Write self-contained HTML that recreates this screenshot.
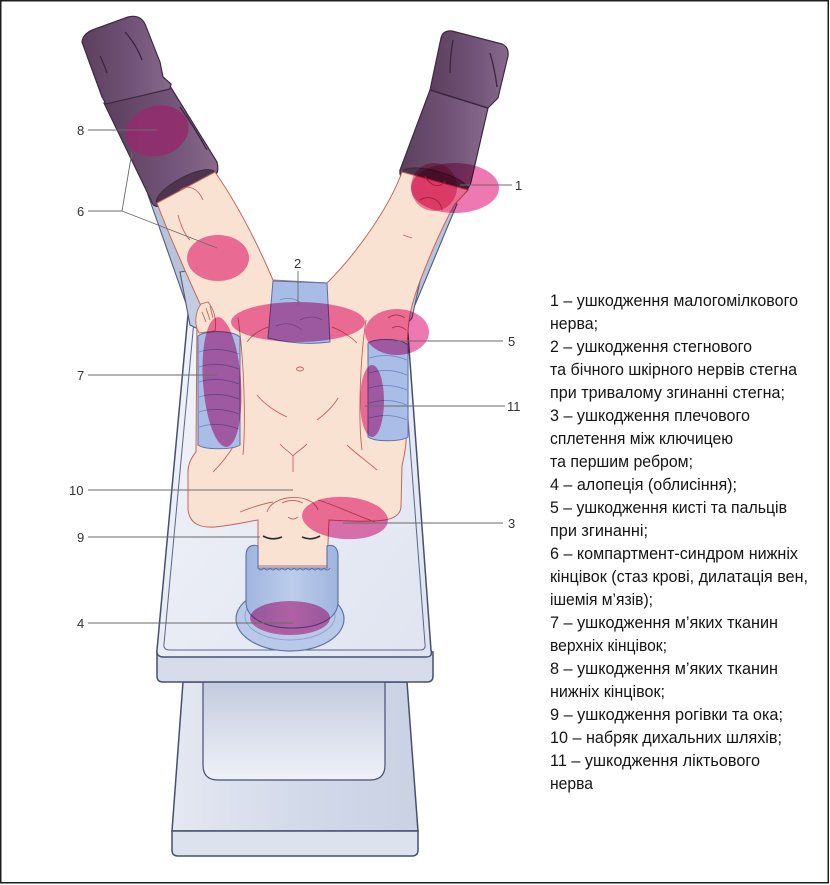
<!DOCTYPE html>
<html><head><meta charset="utf-8">
<style>
html,body{margin:0;padding:0;background:#fff;}
svg{display:block;}
.t{font-family:"Liberation Sans","DejaVu Sans",sans-serif;font-size:17px;fill:#151515;}
.n{font-family:"Liberation Sans","DejaVu Sans",sans-serif;font-size:13px;fill:#333;}
.ld{stroke:#6a6a6a;stroke-width:0.9;fill:none;}
.sk{stroke:#c0675c;stroke-width:0.9;fill:none;}
.pk{fill:#ee78b2;mix-blend-mode:multiply;}
</style></head><body>
<svg width="830" height="885" viewBox="0 0 830 885" xmlns="http://www.w3.org/2000/svg">
<defs>
<linearGradient id="boot" x1="0" y1="0" x2="1" y2="0">
<stop offset="0" stop-color="#5c3f5d"/><stop offset="0.6" stop-color="#73547a"/><stop offset="1" stop-color="#876a8c"/>
</linearGradient>
<linearGradient id="rec" x1="0" y1="0" x2="0" y2="1">
<stop offset="0" stop-color="#c3cbdd"/><stop offset="1" stop-color="#eef1f8"/>
</linearGradient>
<linearGradient id="ped" x1="0" y1="0" x2="1" y2="0">
<stop offset="0" stop-color="#e4e8f2"/><stop offset="0.5" stop-color="#d3daea"/><stop offset="1" stop-color="#c9d1e3"/>
</linearGradient>
<linearGradient id="top" x1="0" y1="0" x2="1" y2="1">
<stop offset="0" stop-color="#f2f4fa"/><stop offset="1" stop-color="#dfe4f0"/>
</linearGradient>
<linearGradient id="cap" x1="0" y1="0" x2="1" y2="0">
<stop offset="0" stop-color="#9fb5df"/><stop offset="0.5" stop-color="#bccdeb"/><stop offset="1" stop-color="#9fb4de"/>
</linearGradient>
</defs>

<rect x="0.75" y="0.75" width="827.5" height="882" fill="#fff" stroke="#1e1e1e" stroke-width="1.5"/>

<!-- table pedestal -->
<path d="M183,682 L407,682 L418,831 L172,831 Z" fill="url(#ped)" stroke="#46506e" stroke-width="1.5"/>
<path d="M203,682 L385,682 L385,765 Q385,780 370,780 L218,780 Q203,780 203,765 Z" fill="url(#rec)" stroke="#46506e" stroke-width="1.2"/>
<path d="M172,831 L418,831 L418,850 Q418,856 412,856 L178,856 Q172,856 172,850 Z" fill="#dce2ee" stroke="#46506e" stroke-width="1.5"/>
<!-- slab -->
<path d="M157,652 L433,652 L433,676 Q433,682 427,682 L163,682 Q157,682 157,676 Z" fill="#d6dcea" stroke="#46506e" stroke-width="1.5"/>
<!-- table top -->
<path d="M190,293 L405,293 L431,650 Q433,657 426,657 L164,657 Q156,657 157,650 Z" fill="url(#top)" stroke="#46506e" stroke-width="1.5"/>
<path d="M196,299 L399,299 L425,644 Q426,650 420,650 L170,650 Q163,650 164,644 Z" fill="none" stroke="#5a6688" stroke-width="1"/>

<!-- rails -->
<polygon points="148,195 161,199 202,298 198,318 189,312" fill="#b8c3da" stroke="#4e5c80" stroke-width="1.1"/>
<polygon points="180,272 193,270 207,305 200,330 190,325" fill="#c3cde1" stroke="#4e5c80" stroke-width="1.1"/>
<polygon points="447,200 457,204 415,305 404,318 405,300" fill="#b8c3da" stroke="#4e5c80" stroke-width="1.1"/>
<polygon points="410,268 422,272 412,318 402,330 400,305" fill="#c3cde1" stroke="#4e5c80" stroke-width="1.1"/>

<!-- head ring -->
<ellipse cx="290" cy="619" rx="54" ry="32" fill="#b9c9ea" stroke="#5f74a6" stroke-width="1.2"/>
<ellipse cx="290" cy="616" rx="45" ry="24" fill="none" stroke="#8ea2cf" stroke-width="1"/>

<!-- left boot -->
<path d="M104,103 L170,86 L217,162 Q220,174 212,178 L160,206 Q153,208 151,200 Z" fill="url(#boot)" stroke="#3e2a40" stroke-width="1.2"/>
<path d="M82,42 Q83,33 95,29 L128,17 Q140,14 145,24 L160,62 L163,77 L171,84 L170,89 L106,104 L102,97 Z" fill="url(#boot)" stroke="#3e2a40" stroke-width="1.2"/>
<path d="M125,32 Q136,44 142,60 M100,56 Q104,64 107,73 M180,107 Q195,128 207,150" stroke="#3a2540" stroke-width="1.3" fill="none"/>
<ellipse cx="186" cy="188" rx="33" ry="11" transform="rotate(-28 186 188)" fill="#4f3450" stroke="#3e2a40" stroke-width="1"/>

<!-- right boot -->
<path d="M430,90 L488,108 L471,182 Q468,192 460,191 L406,180 Q399,178 400,170 Z" fill="url(#boot)" stroke="#3e2a40" stroke-width="1.2"/>
<path d="M441,38 Q443,30 452,31 L502,44 Q509,47 508,56 L498,98 L488,108 L430,90 Z" fill="url(#boot)" stroke="#3e2a40" stroke-width="1.2"/>
<path d="M453,40 Q450,56 450,73 M490,53 Q495,70 497,87 M430,90 L488,108" stroke="#3a2540" stroke-width="1.3" fill="none"/>
<ellipse cx="435" cy="181" rx="34" ry="10" transform="rotate(15 435 181)" fill="#4f3450" stroke="#3e2a40" stroke-width="1"/>

<!-- body -->
<path d="M157,203 C166,228 189,280 201,306 L197,318 L196,452 C191,458 188,465 188,472 L188,510 C190,524 200,528 215,527 C235,525 250,521 258,520 L258,566 L327,566 L329,520 C345,521 370,522 385,520 C396,518 401,513 401,506 L402,466 C404,456 406,450 406,440 L407,345 C408,325 410,312 413,302 C420,278 440,230 455,204 L468,190 L402,172 C390,205 360,250 327,283 L273,280 C258,245 238,205 215,172 Z" fill="#fae2d3" stroke="#c0675c" stroke-width="1"/>
<!-- hands -->
<path d="M201,304 C195,312 194,325 199,333 L215,331 C217,320 214,309 208,302 Z" fill="#fae2d3" stroke="#c0675c" stroke-width="0.9"/>
<path d="M202,312 L206,322 M206,308 L210,320 M210,306 L213,318" class="sk"/>
<path d="M388,318 Q396,312 405,318 M392,328 Q399,324 406,330" class="sk"/>
<!-- body details -->
<path d="M180,190 C188,184 198,188 203,200 M178,215 C181,226 185,235 190,240 M425,176 C430,186 440,189 445,181 M420,200 C428,195 440,198 442,210 M403,235 L412,238" class="sk"/>
<path d="M238,318 C244,360 246,420 243,455 M366,320 C360,360 358,420 362,450" class="sk"/>
<path d="M233,447 C228,455 220,465 213,472 M347,445 C355,453 368,462 377,470" class="sk"/>
<path d="M280,444 C285,450 290,452 293,456 C296,452 301,450 307,444 M293,456 L293,472" class="sk"/>
<path d="M257,395 C265,405 278,413 287,417 M338,398 C333,407 325,414 317,420" class="sk"/>
<ellipse cx="300" cy="369" rx="3.5" ry="2" class="sk"/>
<path d="M247,342 C252,335 260,330 268,327 M332,327 C340,330 350,336 357,343" class="sk"/>
<path d="M240,512 C250,508 262,504 273,502 M318,500 C335,505 355,515 375,522" class="sk"/>
<path d="M267,512 C272,494 312,492 318,510 M282,503 Q292,498 303,503 M288,517 Q293,521 298,517" class="sk"/>
<path d="M263,536 Q272,541 282,537 M302,537 Q311,541 320,536" stroke="#2e2e2e" stroke-width="1.6" fill="none"/>

<!-- drape -->
<path d="M273,281 L327,283 L330,342 Q300,346 268,338 Z" fill="#a8bde6" stroke="#5a70a8" stroke-width="1"/>
<path d="M280,300 Q290,296 300,302 M300,320 Q312,314 322,320 M276,326 Q290,320 302,330" stroke="#6f86c0" stroke-width="0.8" fill="none"/>

<!-- arm supports -->
<path d="M198,336 C205,330 232,330 240,337 L240,445 C232,450 205,450 198,445 Z" fill="#a9bde6" stroke="#5b70a8" stroke-width="1"/>
<path d="M199,352 Q218,346 239,354 M199,367 Q218,361 239,369 M199,382 Q218,376 239,384 M199,397 Q218,391 239,399 M199,412 Q218,406 239,414 M199,427 Q218,421 239,429" stroke="#7188c4" stroke-width="0.9" fill="none"/>
<path d="M368,343 C375,338 400,338 408,345 L408,437 C400,442 375,442 368,437 Z" fill="#a9bde6" stroke="#5b70a8" stroke-width="1"/>
<path d="M369,358 Q388,352 407,360 M369,373 Q388,367 407,375 M369,388 Q388,382 407,390 M369,403 Q388,397 407,405 M369,418 Q388,412 407,420" stroke="#7188c4" stroke-width="0.9" fill="none"/>

<!-- cap -->
<path d="M246,556 C246,546 252,544 258,546 L258,568 L327,568 L327,546 C333,544 338,547 338,556 L338,602 C338,618 320,628 292,628 C265,628 246,618 246,602 Z" fill="url(#cap)" stroke="#5b70a8" stroke-width="1.1"/>
<path d="M258,568 q3,4 6,0 q3,4 6,0 q3,4 6,0 q3,4 6,0 q3,4 6,0 q3,4 6,0 q3,4 6,0 q3,4 6,0 q3,4 6,0 q3,4 6,0 q3,4 6,0 q3,4 6,0" stroke="#5b70a8" stroke-width="0.9" fill="none"/>

<!-- pink zones -->
<ellipse cx="157" cy="131" rx="32" ry="25" transform="rotate(-15 157 131)" fill="#902e6c" opacity="0.92"/>
<ellipse cx="218" cy="258" rx="31" ry="23" class="pk"/>
<ellipse cx="455" cy="188" rx="44" ry="25" class="pk"/>
<ellipse cx="434" cy="187" rx="23" ry="24" fill="#f08ab0" style="mix-blend-mode:multiply"/>
<ellipse cx="298" cy="322" rx="67" ry="20" class="pk"/>
<ellipse cx="397" cy="332" rx="32" ry="23" class="pk"/>
<ellipse cx="222" cy="382" rx="19" ry="65" transform="rotate(-4 222 382)" class="pk"/>
<ellipse cx="372" cy="401" rx="12" ry="36" class="pk"/>
<ellipse cx="345" cy="518" rx="43" ry="21" transform="rotate(4 345 518)" class="pk"/>
<ellipse cx="290" cy="618" rx="40" ry="17" class="pk"/>

<!-- leader lines -->
<path class="ld" d="M88,130 L157,130 M88,211 L122,211 L132,152 M122,211 L217,248 M88,375 L217,375 M88,490 L293,490 M88,537 L260,537 M88,623 L293,623 M460,185 L512,185 M298,271 L298,306 M393,341 L503,341 M365,406 L505,406 M343,523 L503,523"/>
<text class="n" x="77" y="135">8</text>
<text class="n" x="77" y="216">6</text>
<text class="n" x="77" y="380">7</text>
<text class="n" x="69" y="495">10</text>
<text class="n" x="77" y="542">9</text>
<text class="n" x="77" y="628">4</text>
<text class="n" x="515" y="190">1</text>
<text class="n" x="294" y="268">2</text>
<text class="n" x="508" y="346">5</text>
<text class="n" x="507" y="411">11</text>
<text class="n" x="508" y="528">3</text>

<!-- legend -->
<text class="t" x="550" y="306" textLength="248" lengthAdjust="spacingAndGlyphs">1 – ушкодження малогомілкового</text>
<text class="t" x="550" y="329" textLength="48" lengthAdjust="spacingAndGlyphs">нерва;</text>
<text class="t" x="550" y="352" textLength="202" lengthAdjust="spacingAndGlyphs">2 – ушкодження стегнового</text>
<text class="t" x="550" y="375" textLength="247" lengthAdjust="spacingAndGlyphs">та бічного шкірного нервів стегна</text>
<text class="t" x="550" y="398" textLength="235" lengthAdjust="spacingAndGlyphs">при тривалому згинанні стегна;</text>
<text class="t" x="550" y="421" textLength="200" lengthAdjust="spacingAndGlyphs">3 – ушкодження плечового</text>
<text class="t" x="550" y="444" textLength="183" lengthAdjust="spacingAndGlyphs">сплетення між ключицею</text>
<text class="t" x="550" y="467" textLength="143" lengthAdjust="spacingAndGlyphs">та першим ребром;</text>
<text class="t" x="550" y="490" textLength="187" lengthAdjust="spacingAndGlyphs">4 – алопеція (облисіння);</text>
<text class="t" x="550" y="513" textLength="237" lengthAdjust="spacingAndGlyphs">5 – ушкодження кисті та пальців</text>
<text class="t" x="550" y="536" textLength="98" lengthAdjust="spacingAndGlyphs">при згинанні;</text>
<text class="t" x="550" y="559" textLength="248" lengthAdjust="spacingAndGlyphs">6 – компартмент-синдром нижніх</text>
<text class="t" x="550" y="582" textLength="258" lengthAdjust="spacingAndGlyphs">кінцівок (стаз крові, дилатація вен,</text>
<text class="t" x="550" y="605" textLength="103" lengthAdjust="spacingAndGlyphs">ішемія м’язів);</text>
<text class="t" x="550" y="628" textLength="228" lengthAdjust="spacingAndGlyphs">7 – ушкодження м’яких тканин</text>
<text class="t" x="550" y="651" textLength="117" lengthAdjust="spacingAndGlyphs">верхніх кінцівок;</text>
<text class="t" x="550" y="674" textLength="228" lengthAdjust="spacingAndGlyphs">8 – ушкодження м’яких тканин</text>
<text class="t" x="550" y="697" textLength="115" lengthAdjust="spacingAndGlyphs">нижніх кінцівок;</text>
<text class="t" x="550" y="720" textLength="233" lengthAdjust="spacingAndGlyphs">9 – ушкодження рогівки та ока;</text>
<text class="t" x="550" y="743" textLength="232" lengthAdjust="spacingAndGlyphs">10 – набряк дихальних шляхів;</text>
<text class="t" x="550" y="766" textLength="210" lengthAdjust="spacingAndGlyphs">11 – ушкодження ліктьового</text>
<text class="t" x="550" y="789" textLength="43" lengthAdjust="spacingAndGlyphs">нерва</text>
</svg>
</body></html>
